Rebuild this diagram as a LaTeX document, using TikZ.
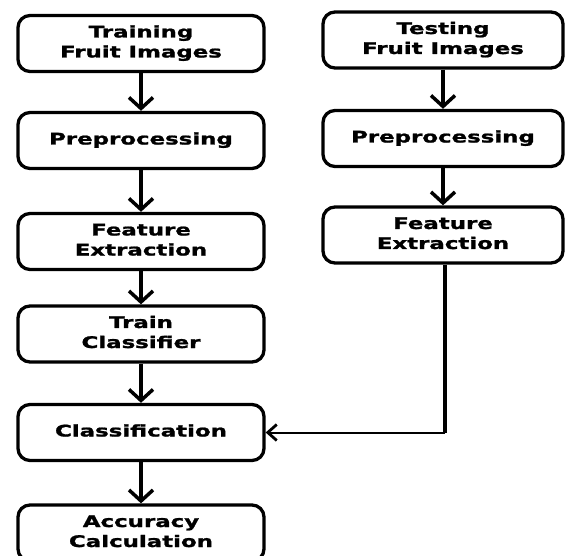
\documentclass[tikz,border=0pt]{standalone}
\usepackage{fontspec}
\setmainfont{DejaVu Sans}[BoldFeatures={FakeBold=1.2}]
\usepackage{graphicx}
\usetikzlibrary{arrows.meta}
\newcommand{\boxlbl}[1]{\scalebox{1.43}[1]{\begin{tabular}{@{}c@{}}#1\end{tabular}}}
\tikzset{
  stage/.style={draw=black, line width=3.3pt, rounded corners=12pt, fill=white,
    minimum width=246pt, minimum height=56pt, inner sep=0pt,
    font=\fontsize{16}{20}\selectfont\bfseries},
  flow/.style={line width=3.5pt, -{Straight Barb[length=11pt,width=24pt]}},
  back/.style={line width=2pt, -{Straight Barb[length=9pt,width=16pt,line width=2.8pt]}},
}
\begin{document}
\begin{tikzpicture}[x=1pt,y=-1pt]
\useasboundingbox (0,0) rectangle (565,556);
\node[stage] (l1) at (141,43.5) {\boxlbl{Training\\Fruit Images}};
\node[stage] (l2) at (141,140.5) {\boxlbl{Preprocessing}};
\node[stage] (l3) at (141,241.5) {\boxlbl{Feature\\Extraction}};
\node[stage] (l4) at (141,334) {\boxlbl{Train\\Classifier}};
\node[stage] (l5) at (141,432.5) {\boxlbl{Classification}};
\node[stage] (l6) at (141,533) {\boxlbl{Accuracy\\Calculation}};
\node[stage, minimum width=240pt] (r1) at (443,40) {\boxlbl{Testing\\Fruit Images}};
\node[stage, minimum width=240pt] (r2) at (443,138.5) {\boxlbl{Preprocessing}};
\node[stage, minimum width=240pt] (r3) at (443,235) {\boxlbl{Feature\\Extraction}};
\coordinate (corner) at (445,432.5);
\draw[flow] (l1.south) -- (l2.north);
\draw[flow] (l2.south) -- (l3.north);
\draw[flow] (l3.south) -- (l4.north);
\draw[flow] (l4.south) -- (l5.north);
\draw[flow] (l5.south) -- (l6.north);
\draw[flow] (r1.south) -- (r2.north);
\draw[flow] (r2.south) -- (r3.north);
\draw[line width=3.5pt] (r3.south -| corner) -- (corner);
\draw[back] (corner) -- (l5.east);
\end{tikzpicture}
\end{document}
